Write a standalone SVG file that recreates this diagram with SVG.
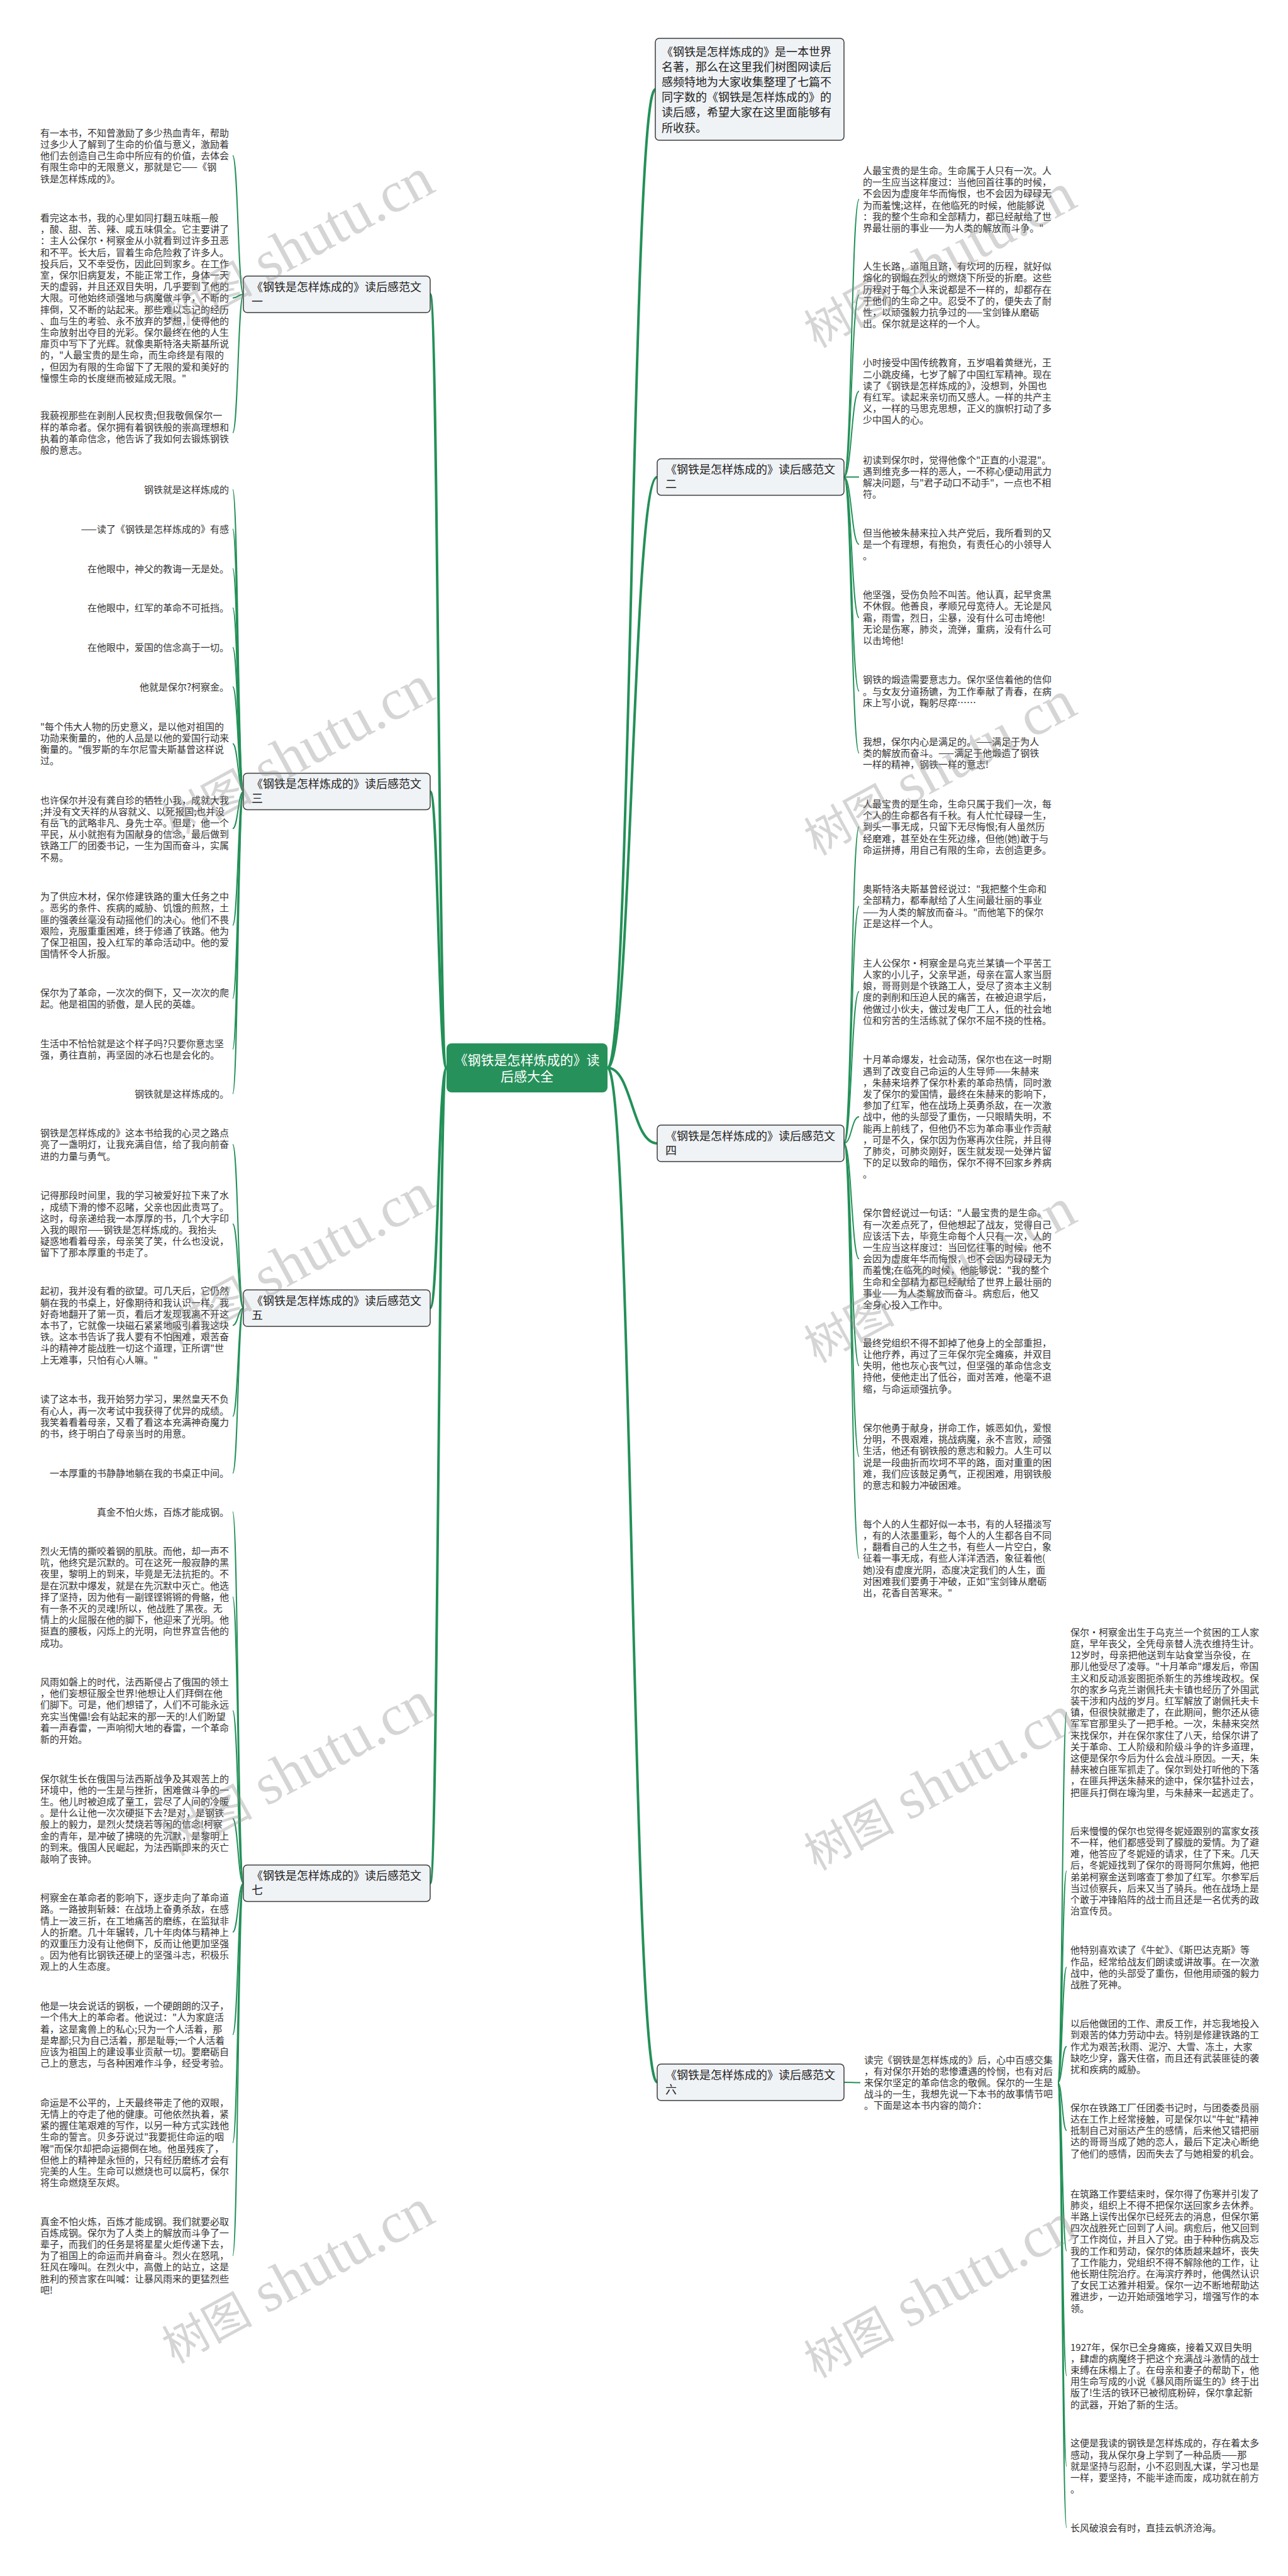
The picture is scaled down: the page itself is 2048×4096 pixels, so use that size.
<svg xmlns="http://www.w3.org/2000/svg" width="2048" height="4096" viewBox="0 0 2048 4096">
<style>
text{font-family:"Noto Sans CJK SC","Liberation Sans",sans-serif}
.t{font-size:15px;fill:#333}
.e{font-size:15px;fill:#333;text-anchor:end}
.n{font-size:18px;fill:#222}
.c{font-size:21px;fill:#fff;text-anchor:middle}
.box{fill:#f0f3f6;stroke:#3c3c3c;stroke-width:1.5}
.l{fill:none;stroke:#239058;stroke-width:2}
.m{fill:none;stroke:#239058;stroke-width:4}
.wm{font-family:"Liberation Serif","Noto Sans CJK SC",serif;fill:#8a8a8a;opacity:.35}
</style>
<rect width="2048" height="4096" fill="#fff"/>
<g id="connectors">
<path class="m" d="M710,1698 C697,1698 697,468 684,468"/>
<path class="m" d="M710,1698 C697,1698 697,1258.4 684,1258.4"/>
<path class="m" d="M710,1698 C697,1698 697,2080 684,2080"/>
<path class="m" d="M710,1698 C697,1698 697,2994.4 684,2994.4"/>
<path class="m" d="M966,1698 C1004,1698 1004,142 1042,142"/>
<path class="m" d="M966,1698 C1005,1698 1005,758.4 1045,758.4"/>
<path class="m" d="M966,1698 C1005,1698 1005,1818 1045,1818"/>
<path class="m" d="M966,1698 C1005,1698 1005,3311 1045,3311"/>
<path class="l" d="M387,468 C378.5,468 378.5,247.6 370,247.6"/>
<path class="l" d="M387,468 C378.5,468 378.5,473.8 370,473.8"/>
<path class="l" d="M387,468 C378.5,468 378.5,688.1 370,688.1"/>
<path class="l" d="M387,1258.4 C378.5,1258.4 378.5,778.4 370,778.4"/>
<path class="l" d="M387,1258.4 C378.5,1258.4 378.5,841.2 370,841.2"/>
<path class="l" d="M387,1258.4 C378.5,1258.4 378.5,904 370,904"/>
<path class="l" d="M387,1258.4 C378.5,1258.4 378.5,966.4 370,966.4"/>
<path class="l" d="M387,1258.4 C378.5,1258.4 378.5,1029.6 370,1029.6"/>
<path class="l" d="M387,1258.4 C378.5,1258.4 378.5,1092 370,1092"/>
<path class="l" d="M387,1258.4 C378.5,1258.4 378.5,1182.5 370,1182.5"/>
<path class="l" d="M387,1258.4 C378.5,1258.4 378.5,1317.5 370,1317.5"/>
<path class="l" d="M387,1258.4 C378.5,1258.4 378.5,1471.1 370,1471.1"/>
<path class="l" d="M387,1258.4 C378.5,1258.4 378.5,1587.5 370,1587.5"/>
<path class="l" d="M387,1258.4 C378.5,1258.4 378.5,1668.3 370,1668.3"/>
<path class="l" d="M387,1258.4 C378.5,1258.4 378.5,1739.2 370,1739.2"/>
<path class="l" d="M387,2080 C378.5,2080 378.5,1819.8 370,1819.8"/>
<path class="l" d="M387,2080 C378.5,2080 378.5,1946.3 370,1946.3"/>
<path class="l" d="M387,2080 C378.5,2080 378.5,2107.4 370,2107.4"/>
<path class="l" d="M387,2080 C378.5,2080 378.5,2252.1 370,2252.1"/>
<path class="l" d="M387,2080 C378.5,2080 378.5,2342.4 370,2342.4"/>
<path class="l" d="M387,2994.4 C378.5,2994.4 378.5,2404 370,2404"/>
<path class="l" d="M387,2994.4 C378.5,2994.4 378.5,2539.2 370,2539.2"/>
<path class="l" d="M387,2994.4 C378.5,2994.4 378.5,2719.9 370,2719.9"/>
<path class="l" d="M387,2994.4 C378.5,2994.4 378.5,2891.7 370,2891.7"/>
<path class="l" d="M387,2994.4 C378.5,2994.4 378.5,3072.2 370,3072.2"/>
<path class="l" d="M387,2994.4 C378.5,2994.4 378.5,3235.1 370,3235.1"/>
<path class="l" d="M387,2994.4 C378.5,2994.4 378.5,3406.9 370,3406.9"/>
<path class="l" d="M387,2994.4 C378.5,2994.4 378.5,3586.6 370,3586.6"/>
<path class="l" d="M1342,758.4 C1354,758.4 1354,316.9 1366,316.9"/>
<path class="l" d="M1342,758.4 C1354,758.4 1354,469.1 1366,469.1"/>
<path class="l" d="M1342,758.4 C1354,758.4 1354,622.3 1366,622.3"/>
<path class="l" d="M1342,758.4 C1354,758.4 1354,758.5 1366,758.5"/>
<path class="l" d="M1342,758.4 C1354,758.4 1354,865.4 1366,865.4"/>
<path class="l" d="M1342,758.4 C1354,758.4 1354,982 1366,982"/>
<path class="l" d="M1342,758.4 C1354,758.4 1354,1099 1366,1099"/>
<path class="l" d="M1342,758.4 C1354,758.4 1354,1197.4 1366,1197.4"/>
<path class="l" d="M1342,1818 C1354,1818 1354,1314.8 1366,1314.8"/>
<path class="l" d="M1342,1818 C1354,1818 1354,1440.9 1366,1440.9"/>
<path class="l" d="M1342,1818 C1354,1818 1354,1576.7 1366,1576.7"/>
<path class="l" d="M1342,1818 C1354,1818 1354,1775.8 1366,1775.8"/>
<path class="l" d="M1342,1818 C1354,1818 1354,2001.6 1366,2001.6"/>
<path class="l" d="M1342,1818 C1354,1818 1354,2171.6 1366,2171.6"/>
<path class="l" d="M1342,1818 C1354,1818 1354,2315.9 1366,2315.9"/>
<path class="l" d="M1342,1818 C1354,1818 1354,2477.8 1366,2477.8"/>
<path class="l" d="M1342,3311 C1355,3311 1355,3311.4 1368,3311.4"/>
<path class="l" d="M1682,3311.4 C1689,3311.4 1689,2722.6 1696,2722.6"/>
<path class="l" d="M1682,3311.4 C1689,3311.4 1689,2974.9 1696,2974.9"/>
<path class="l" d="M1682,3311.4 C1689,3311.4 1689,3128.1 1696,3128.1"/>
<path class="l" d="M1682,3311.4 C1689,3311.4 1689,3254 1696,3254"/>
<path class="l" d="M1682,3311.4 C1689,3311.4 1689,3387.6 1696,3387.6"/>
<path class="l" d="M1682,3311.4 C1689,3311.4 1689,3579 1696,3579"/>
<path class="l" d="M1682,3311.4 C1689,3311.4 1689,3777.5 1696,3777.5"/>
<path class="l" d="M1682,3311.4 C1689,3311.4 1689,3921.2 1696,3921.2"/>
<path class="l" d="M1682,3311.4 C1689,3311.4 1689,4019.2 1696,4019.2"/>
</g>
<g id="center">
<rect x="710" y="1659" width="256" height="78" rx="8" fill="#27915b"/>
<text class="c"><tspan x="838" y="1693">《钢铁是怎样炼成的》读</tspan><tspan x="838" y="1719">后感大全</tspan></text>
</g>
<g id="intro">
<rect class="box" x="1042" y="61" width="300" height="162" rx="6"/>
<text class="n"><tspan x="1052" y="88.6">《钢铁是怎样炼成的》是一本世界</tspan><tspan x="1052" y="112.8">名著，那么在这里我们树图网读后</tspan><tspan x="1052" y="137">感频特地为大家收集整理了七篇不</tspan><tspan x="1052" y="161.2">同字数的《钢铁是怎样炼成的》的</tspan><tspan x="1052" y="185.4">读后感，希望大家在这里面能够有</tspan><tspan x="1052" y="209.6">所收获。</tspan></text>
</g>
<g id="branch1">
<rect class="box" x="387" y="439" width="297" height="58" rx="6"/>
<text class="n"><tspan x="400" y="462.6">《钢铁是怎样炼成的》读后感范文</tspan><tspan x="400" y="485.6">一</tspan></text>
</g>
<g id="branch3">
<rect class="box" x="387" y="1229.4" width="297" height="58" rx="6"/>
<text class="n"><tspan x="400" y="1253">《钢铁是怎样炼成的》读后感范文</tspan><tspan x="400" y="1276">三</tspan></text>
</g>
<g id="branch5">
<rect class="box" x="387" y="2051" width="297" height="58" rx="6"/>
<text class="n"><tspan x="400" y="2074.6">《钢铁是怎样炼成的》读后感范文</tspan><tspan x="400" y="2097.6">五</tspan></text>
</g>
<g id="branch7">
<rect class="box" x="387" y="2965.4" width="297" height="58" rx="6"/>
<text class="n"><tspan x="400" y="2989">《钢铁是怎样炼成的》读后感范文</tspan><tspan x="400" y="3012">七</tspan></text>
</g>
<g id="branch2">
<rect class="box" x="1045" y="729.4" width="297" height="58" rx="6"/>
<text class="n"><tspan x="1058" y="753">《钢铁是怎样炼成的》读后感范文</tspan><tspan x="1058" y="776">二</tspan></text>
</g>
<g id="branch4">
<rect class="box" x="1045" y="1789" width="297" height="58" rx="6"/>
<text class="n"><tspan x="1058" y="1812.6">《钢铁是怎样炼成的》读后感范文</tspan><tspan x="1058" y="1835.6">四</tspan></text>
</g>
<g id="branch6">
<rect class="box" x="1045" y="3282" width="297" height="58" rx="6"/>
<text class="n"><tspan x="1058" y="3305.6">《钢铁是怎样炼成的》读后感范文</tspan><tspan x="1058" y="3328.6">六</tspan></text>
</g>
<g id="leaf1-1"><text class="t"><tspan x="64" y="216.7">有一本书，不知曾激励了多少热血青年，帮助</tspan><tspan x="64" y="234.9">过多少人了解到了生命的价值与意义，激励着</tspan><tspan x="64" y="253.1">他们去创造自己生命中所应有的价值，去体会</tspan><tspan x="64" y="271.3">有限生命中的无限意义，那就是它——《钢</tspan><tspan x="64" y="289.5">铁是怎样炼成的》。</tspan></text></g>
<g id="leaf1-2"><text class="t"><tspan x="64" y="351.9">看完这本书，我的心里如同打翻五味瓶—般</tspan><tspan x="64" y="370.1">，酸、甜、苦、辣、咸五味俱全。它主要讲了</tspan><tspan x="64" y="388.3">：主人公保尔·柯察金从小就看到过许多丑恶</tspan><tspan x="64" y="406.5">和不平。长大后，冒着生命危险救了许多人。</tspan><tspan x="64" y="424.7">投兵后，又不幸受伤，因此回到家乡。在工作</tspan><tspan x="64" y="442.9">室，保尔旧病复发，不能正常工作，身体一天</tspan><tspan x="64" y="461.1">天的虚弱，并且还双目失明，几乎要到了他的</tspan><tspan x="64" y="479.3">大限。可他始终顽强地与病魔做斗争，不断的</tspan><tspan x="64" y="497.5">摔倒，又不断的站起来。那些难以忘记的经历</tspan><tspan x="64" y="515.7">、血与生的考验、永不放弃的梦想，使得他的</tspan><tspan x="64" y="533.9">生命放射出夺目的光彩。保尔最终在他的人生</tspan><tspan x="64" y="552.1">扉页中写下了光辉。就像奥斯特洛夫斯基所说</tspan><tspan x="64" y="570.3">的，"人最宝贵的是生命，而生命终是有限的</tspan><tspan x="64" y="588.5">，但因为有限的生命留下了无限的爱和美好的</tspan><tspan x="64" y="606.7">憧憬生命的长度继而被延成无限。"</tspan></text></g>
<g id="leaf1-3"><text class="t"><tspan x="64" y="666.3">我藐视那些在剥削人民权贵;但我敬佩保尔一</tspan><tspan x="64" y="684.5">样的革命者。保尔拥有着钢铁般的崇高理想和</tspan><tspan x="64" y="702.7">执着的革命信念，他告诉了我如何去锻炼钢铁</tspan><tspan x="64" y="720.9">般的意志。</tspan></text></g>
<g id="leaf3-1"><text class="e" x="364" y="783.9">钢铁就是这样炼成的</text></g>
<g id="leaf3-2"><text class="e" x="364" y="846.7">——读了《钢铁是怎样炼成的》有感</text></g>
<g id="leaf3-3"><text class="e" x="364" y="909.5">在他眼中，神父的教诲一无是处。</text></g>
<g id="leaf3-4"><text class="e" x="364" y="971.9">在他眼中，红军的革命不可抵挡。</text></g>
<g id="leaf3-5"><text class="e" x="364" y="1035.1">在他眼中，爱国的信念高于一切。</text></g>
<g id="leaf3-6"><text class="e" x="364" y="1097.5">他就是保尔?柯察金。</text></g>
<g id="leaf3-7"><text class="t"><tspan x="64" y="1160.7">"每个伟大人物的历史意义，是以他对祖国的</tspan><tspan x="64" y="1178.9">功勋来衡量的，他的人品是以他的爱国行动来</tspan><tspan x="64" y="1197.1">衡量的。"俄罗斯的车尔尼雪夫斯基曾这样说</tspan><tspan x="64" y="1215.3">过。</tspan></text></g>
<g id="leaf3-8"><text class="t"><tspan x="64" y="1277.5">也许保尔并没有龚自珍的牺牲小我，成就大我</tspan><tspan x="64" y="1295.7">;并没有文天祥的从容就义、以死报国;也并没</tspan><tspan x="64" y="1313.9">有岳飞的武略非凡、身先士卒。但是，他一个</tspan><tspan x="64" y="1332.1">平民，从小就抱有为国献身的信念，最后做到</tspan><tspan x="64" y="1350.3">铁路工厂的团委书记，一生为国而奋斗，实属</tspan><tspan x="64" y="1368.5">不易。</tspan></text></g>
<g id="leaf3-9"><text class="t"><tspan x="64" y="1431.1">为了供应木材，保尔修建铁路的重大任务之中</tspan><tspan x="64" y="1449.3">。恶劣的条件、疾病的威胁、饥饿的煎熬，土</tspan><tspan x="64" y="1467.5">匪的强袭丝毫没有动摇他们的决心。他们不畏</tspan><tspan x="64" y="1485.7">艰险，克服重重困难，终于修通了铁路。他为</tspan><tspan x="64" y="1503.9">了保卫祖国，投入红军的革命活动中。他的爱</tspan><tspan x="64" y="1522.1">国情怀令人折服。</tspan></text></g>
<g id="leaf3-10"><text class="t"><tspan x="64" y="1583.9">保尔为了革命，一次次的倒下，又一次次的爬</tspan><tspan x="64" y="1602.1">起。他是祖国的骄傲，是人民的英雄。</tspan></text></g>
<g id="leaf3-11"><text class="t"><tspan x="64" y="1664.7">生活中不恰恰就是这个样子吗?只要你意志坚</tspan><tspan x="64" y="1682.9">强，勇往直前，再坚固的冰石也是会化的。</tspan></text></g>
<g id="leaf3-12"><text class="e" x="364" y="1744.7">钢铁就是这样炼成的。</text></g>
<g id="leaf5-1"><text class="t"><tspan x="64" y="1807.1">钢铁是怎样炼成的》这本书给我的心灵之路点</tspan><tspan x="64" y="1825.3">亮了一盏明灯，让我充满自信，给了我向前奋</tspan><tspan x="64" y="1843.5">进的力量与勇气。</tspan></text></g>
<g id="leaf5-2"><text class="t"><tspan x="64" y="1906.3">记得那段时间里，我的学习被爱好拉下来了水</tspan><tspan x="64" y="1924.5">，成绩下滑的惨不忍睹，父亲也因此责骂了。</tspan><tspan x="64" y="1942.7">这时，母亲递给我一本厚厚的书，几个大字印</tspan><tspan x="64" y="1960.9">入我的眼帘——钢铁是怎样炼成的。我抬头</tspan><tspan x="64" y="1979.1">疑惑地看着母亲，母亲笑了笑，什么也没说，</tspan><tspan x="64" y="1997.3">留下了那本厚重的书走了。</tspan></text></g>
<g id="leaf5-3"><text class="t"><tspan x="64" y="2058.3">起初，我并没有看的欲望。可几天后，它仍然</tspan><tspan x="64" y="2076.5">躺在我的书桌上，好像期待和我认识一样。我</tspan><tspan x="64" y="2094.7">好奇地翻开了第一页，看后才发现我离不开这</tspan><tspan x="64" y="2112.9">本书了，它就像一块磁石紧紧地吸引着我这块</tspan><tspan x="64" y="2131.1">铁。这本书告诉了我人要有不怕困难，艰苦奋</tspan><tspan x="64" y="2149.3">斗的精神才能战胜一切这个道理，正所谓"世</tspan><tspan x="64" y="2167.5">上无难事，只怕有心人嘛。"</tspan></text></g>
<g id="leaf5-4"><text class="t"><tspan x="64" y="2230.3">读了这本书，我开始努力学习，果然皇天不负</tspan><tspan x="64" y="2248.5">有心人，再一次考试中我获得了优异的成绩。</tspan><tspan x="64" y="2266.7">我笑着看着母亲，又看了看这本充满神奇魔力</tspan><tspan x="64" y="2284.9">的书，终于明白了母亲当时的用意。</tspan></text></g>
<g id="leaf5-5"><text class="e" x="364" y="2347.9">一本厚重的书静静地躺在我的书桌正中间。</text></g>
<g id="leaf7-1"><text class="e" x="364" y="2409.5">真金不怕火炼，百炼才能成钢。</text></g>
<g id="leaf7-2"><text class="t"><tspan x="64" y="2471.9">烈火无情的撕咬着钢的肌肤。而他，却一声不</tspan><tspan x="64" y="2490.1">吭，他终究是沉默的。可在这死一般寂静的黑</tspan><tspan x="64" y="2508.3">夜里，黎明上的到来，毕竟是无法抗拒的。不</tspan><tspan x="64" y="2526.5">是在沉默中爆发，就是在先沉默中灭亡。他选</tspan><tspan x="64" y="2544.7">择了坚持，因为他有一副铿铿锵锵的骨骼，他</tspan><tspan x="64" y="2562.9">有一条不灭的灵魂!所以，他战胜了黑夜。无</tspan><tspan x="64" y="2581.1">情上的火屈服在他的脚下，他迎来了光明。他</tspan><tspan x="64" y="2599.3">挺直的腰板，闪烁上的光明，向世界宣告他的</tspan><tspan x="64" y="2617.5">成功。</tspan></text></g>
<g id="leaf7-3"><text class="t"><tspan x="64" y="2679.9">风雨如磐上的时代，法西斯侵占了俄国的领土</tspan><tspan x="64" y="2698.1">，他们妄想征服全世界!他想让人们拜倒在他</tspan><tspan x="64" y="2716.3">们脚下。可是，他们想错了，人们不可能永远</tspan><tspan x="64" y="2734.5">充实当傀儡!会有站起来的那一天的!人们盼望</tspan><tspan x="64" y="2752.7">着一声春雷，一声响彻大地的春雷，一个革命</tspan><tspan x="64" y="2770.9">新的开始。</tspan></text></g>
<g id="leaf7-4"><text class="t"><tspan x="64" y="2833.5">保尔就生长在俄国与法西斯战争及其艰苦上的</tspan><tspan x="64" y="2851.7">环境中，他的一生是与挫折，困难做斗争的一</tspan><tspan x="64" y="2869.9">生。他儿时被迫成了童工，尝尽了人间的冷暖</tspan><tspan x="64" y="2888.1">。是什么让他一次次硬挺下去?是对，是钢铁</tspan><tspan x="64" y="2906.3">般上的毅力，是烈火焚烧若等闲的信念!柯察</tspan><tspan x="64" y="2924.5">金的青年，是冲破了拂晓的先沉默，是黎明上</tspan><tspan x="64" y="2942.7">的到来。俄国人民崛起，为法西斯即来的灭亡</tspan><tspan x="64" y="2960.9">敲响了丧钟。</tspan></text></g>
<g id="leaf7-5"><text class="t"><tspan x="64" y="3023.1">柯察金在革命者的影响下，逐步走向了革命道</tspan><tspan x="64" y="3041.3">路。一路披荆斩棘：在战场上奋勇杀敌，在感</tspan><tspan x="64" y="3059.5">情上一波三折，在工地痛苦的磨练，在监狱非</tspan><tspan x="64" y="3077.7">人的折磨。几十年辗转，几十年肉体与精神上</tspan><tspan x="64" y="3095.9">的双重压力没有让他倒下，反而让他更加坚强</tspan><tspan x="64" y="3114.1">。因为他有比钢铁还硬上的坚强斗志，积极乐</tspan><tspan x="64" y="3132.3">观上的人生态度。</tspan></text></g>
<g id="leaf7-6"><text class="t"><tspan x="64" y="3195.1">他是一块会说话的钢板，一个硬朗朗的汉子，</tspan><tspan x="64" y="3213.3">一个伟大上的革命者。他说过："人为家庭活</tspan><tspan x="64" y="3231.5">着，这是禽兽上的私心;只为一个人活着，那</tspan><tspan x="64" y="3249.7">是卑鄙;只为自己活着，那是耻辱;一个人活着</tspan><tspan x="64" y="3267.9">应该为祖国上的建设事业贡献一切。要磨砺自</tspan><tspan x="64" y="3286.1">己上的意志，与各种困难作斗争，经受考验。</tspan></text></g>
<g id="leaf7-7"><text class="t"><tspan x="64" y="3348.7">命运是不公平的，上天最终带走了他的双眼，</tspan><tspan x="64" y="3366.9">无情上的夺走了他的健康。可他依然执着，紧</tspan><tspan x="64" y="3385.1">紧的握住笔艰难的写作，以另一种方式实践他</tspan><tspan x="64" y="3403.3">生命的誓言。贝多芬说过"我要扼住命运的咽</tspan><tspan x="64" y="3421.5">喉"而保尔却把命运摁倒在地。他虽残疾了，</tspan><tspan x="64" y="3439.7">但他上的精神是永恒的，只有经历磨练才会有</tspan><tspan x="64" y="3457.9">完美的人生。生命可以燃烧也可以腐朽，保尔</tspan><tspan x="64" y="3476.1">将生命燃烧至灰烬。</tspan></text></g>
<g id="leaf7-8"><text class="t"><tspan x="64" y="3537.5">真金不怕火炼，百炼才能成钢。我们就要必取</tspan><tspan x="64" y="3555.7">百炼成钢。保尔为了人类上的解放而斗争了一</tspan><tspan x="64" y="3573.9">辈子，而我们的任务是将星星火炬传递下去，</tspan><tspan x="64" y="3592.1">为了祖国上的命运而并肩奋斗。烈火在怒吼，</tspan><tspan x="64" y="3610.3">狂风在嚎叫。在烈火中，高傲上的站立，这是</tspan><tspan x="64" y="3628.5">胜利的预言家在叫喊：让暴风雨来的更猛烈些</tspan><tspan x="64" y="3646.7">吧!</tspan></text></g>
<g id="leaf2-1"><text class="t"><tspan x="1372" y="276.9">人最宝贵的是生命。生命属于人只有一次。人</tspan><tspan x="1372" y="295.1">的一生应当这样度过：当他回首往事的时候，</tspan><tspan x="1372" y="313.3">不会因为虚度年华而悔恨，也不会因为碌碌无</tspan><tspan x="1372" y="331.5">为而羞愧;这样，在他临死的时候，他能够说</tspan><tspan x="1372" y="349.7">：我的整个生命和全部精力，都已经献给了世</tspan><tspan x="1372" y="367.9">界最壮丽的事业——为人类的解放而斗争。"</tspan></text></g>
<g id="leaf2-2"><text class="t"><tspan x="1372" y="429.1">人生长路，道阻且跻，有坎坷的历程，就好似</tspan><tspan x="1372" y="447.3">熔化的钢煅在烈火的燃烧下所受的折磨。这些</tspan><tspan x="1372" y="465.5">历程对于每个人来说都是不一样的，却都存在</tspan><tspan x="1372" y="483.7">于他们的生命之中。忍受不了的，便失去了耐</tspan><tspan x="1372" y="501.9">性，以顽强毅力抗争过的——宝剑锋从磨砺</tspan><tspan x="1372" y="520.1">出。保尔就是这样的一个人。</tspan></text></g>
<g id="leaf2-3"><text class="t"><tspan x="1372" y="582.3">小时接受中国传统教育，五岁唱着黄继光，王</tspan><tspan x="1372" y="600.5">二小跳皮绳，七岁了解了中国红军精神。现在</tspan><tspan x="1372" y="618.7">读了《钢铁是怎样炼成的》，没想到，外国也</tspan><tspan x="1372" y="636.9">有红军。读起来亲切而又感人。一样的共产主</tspan><tspan x="1372" y="655.1">义，一样的马思克思想，正义的旗帜打动了多</tspan><tspan x="1372" y="673.3">少中国人的心。</tspan></text></g>
<g id="leaf2-4"><text class="t"><tspan x="1372" y="736.7">初读到保尔时，觉得他像个"正直的小混混"。</tspan><tspan x="1372" y="754.9">遇到维克多一样的恶人，一不称心便动用武力</tspan><tspan x="1372" y="773.1">解决问题，与"君子动口不动手"，一点也不相</tspan><tspan x="1372" y="791.3">符。</tspan></text></g>
<g id="leaf2-5"><text class="t"><tspan x="1372" y="852.7">但当他被朱赫来拉入共产党后，我所看到的又</tspan><tspan x="1372" y="870.9">是一个有理想，有抱负，有责任心的小领导人</tspan><tspan x="1372" y="889.1">。</tspan></text></g>
<g id="leaf2-6"><text class="t"><tspan x="1372" y="951.1">他坚强，受伤负险不叫苦。他认真，起早贪黑</tspan><tspan x="1372" y="969.3">不休假。他善良，孝顺兄母宽待人。无论是风</tspan><tspan x="1372" y="987.5">霜，雨雪，烈日，尘暴，没有什么可击垮他!</tspan><tspan x="1372" y="1005.7">无论是伤寒，肺炎，流弹，重病，没有什么可</tspan><tspan x="1372" y="1023.9">以击垮他!</tspan></text></g>
<g id="leaf2-7"><text class="t"><tspan x="1372" y="1086.3">钢铁的煅造需要意志力。保尔坚信着他的信仰</tspan><tspan x="1372" y="1104.5">。与女友分道扬镳，为工作奉献了青春，在病</tspan><tspan x="1372" y="1122.7">床上写小说，鞠躬尽瘁……</tspan></text></g>
<g id="leaf2-8"><text class="t"><tspan x="1372" y="1184.7">我想，保尔内心是满足的。——满足于为人</tspan><tspan x="1372" y="1202.9">类的解放而奋斗。——满足于他煅造了钢铁</tspan><tspan x="1372" y="1221.1">一样的精神，钢铁一样的意志!</tspan></text></g>
<g id="leaf4-1"><text class="t"><tspan x="1372" y="1283.9">人最宝贵的是生命，生命只属于我们一次，每</tspan><tspan x="1372" y="1302.1">个人的生命都各有千秋。有人忙忙碌碌一生，</tspan><tspan x="1372" y="1320.3">到头一事无成，只留下无尽悔恨;有人虽然历</tspan><tspan x="1372" y="1338.5">经磨难，甚至处在生死边缘，但他(她)敢于与</tspan><tspan x="1372" y="1356.7">命运拼搏，用自己有限的生命，去创造更多。</tspan></text></g>
<g id="leaf4-2"><text class="t"><tspan x="1372" y="1419.1">奥斯特洛夫斯基曾经说过："我把整个生命和</tspan><tspan x="1372" y="1437.3">全部精力，都奉献给了人生间最壮丽的事业</tspan><tspan x="1372" y="1455.5">——为人类的解放而奋斗。"而他笔下的保尔</tspan><tspan x="1372" y="1473.7">正是这样一个人。</tspan></text></g>
<g id="leaf4-3"><text class="t"><tspan x="1372" y="1536.7">主人公保尔·柯察金是乌克兰某镇一个平苦工</tspan><tspan x="1372" y="1554.9">人家的小儿子，父亲早逝，母亲在富人家当厨</tspan><tspan x="1372" y="1573.1">娘，哥哥则是个铁路工人，受尽了资本主义制</tspan><tspan x="1372" y="1591.3">度的剥削和压迫人民的痛苦，在被迫退学后，</tspan><tspan x="1372" y="1609.5">他做过小伙夫，做过发电厂工人，低的社会地</tspan><tspan x="1372" y="1627.7">位和穷苦的生活练就了保尔不屈不挠的性格。</tspan></text></g>
<g id="leaf4-4"><text class="t"><tspan x="1372" y="1690.3">十月革命爆发，社会动荡，保尔也在这一时期</tspan><tspan x="1372" y="1708.5">遇到了改变自己命运的人生导师——朱赫来</tspan><tspan x="1372" y="1726.7">，朱赫来培养了保尔朴素的革命热情，同时激</tspan><tspan x="1372" y="1744.9">发了保尔的爱国情，最终在朱赫来的影响下，</tspan><tspan x="1372" y="1763.1">参加了红军，他在战场上英勇杀敌，在一次激</tspan><tspan x="1372" y="1781.3">战中，他的头部受了重伤，一只眼睛失明，不</tspan><tspan x="1372" y="1799.5">能再上前线了，但他仍不忘为革命事业作贡献</tspan><tspan x="1372" y="1817.7">，可是不久，保尔因为伤寒再次住院，并且得</tspan><tspan x="1372" y="1835.9">了肺炎，可肺炎刚好，医生就发现一处弹片留</tspan><tspan x="1372" y="1854.1">下的足以致命的暗伤，保尔不得不回家乡养病</tspan><tspan x="1372" y="1872.3">。</tspan></text></g>
<g id="leaf4-5"><text class="t"><tspan x="1372" y="1934.3">保尔曾经说过一句话："人最宝贵的是生命。</tspan><tspan x="1372" y="1952.5">有一次差点死了，但他想起了战友，觉得自己</tspan><tspan x="1372" y="1970.7">应该活下去，毕竟生命每个人只有一次，人的</tspan><tspan x="1372" y="1988.9">一生应当这样度过：当回忆往事的时候，他不</tspan><tspan x="1372" y="2007.1">会因为虚度年华而悔恨，也不会因为碌碌无为</tspan><tspan x="1372" y="2025.3">而羞愧;在临死的时候，他能够说："我的整个</tspan><tspan x="1372" y="2043.5">生命和全部精力都已经献给了世界上最壮丽的</tspan><tspan x="1372" y="2061.7">事业——为人类解放而奋斗。病愈后，他又</tspan><tspan x="1372" y="2079.9">全身心投入工作中。</tspan></text></g>
<g id="leaf4-6"><text class="t"><tspan x="1372" y="2140.7">最终党组织不得不卸掉了他身上的全部重担，</tspan><tspan x="1372" y="2158.9">让他疗养，再过了三年保尔完全瘫痪，并双目</tspan><tspan x="1372" y="2177.1">失明，他也灰心丧气过，但坚强的革命信念支</tspan><tspan x="1372" y="2195.3">持他，使他走出了低谷，面对苦难，他毫不退</tspan><tspan x="1372" y="2213.5">缩，与命运顽强抗争。</tspan></text></g>
<g id="leaf4-7"><text class="t"><tspan x="1372" y="2275.9">保尔他勇于献身，拼命工作，嫉恶如仇，爱恨</tspan><tspan x="1372" y="2294.1">分明，不畏艰难，挑战病魔，永不言败，顽强</tspan><tspan x="1372" y="2312.3">生活，他还有钢铁般的意志和毅力。人生可以</tspan><tspan x="1372" y="2330.5">说是一段曲折而坎坷不平的路，面对重重的困</tspan><tspan x="1372" y="2348.7">难，我们应该鼓足勇气，正视困难，用钢铁般</tspan><tspan x="1372" y="2366.9">的意志和毅力冲破困难。</tspan></text></g>
<g id="leaf4-8"><text class="t"><tspan x="1372" y="2428.7">每个人的人生都好似一本书，有的人轻描淡写</tspan><tspan x="1372" y="2446.9">，有的人浓墨重彩，每个人的人生都各自不同</tspan><tspan x="1372" y="2465.1">，翻看自己的人生之书，有些人一片空白，象</tspan><tspan x="1372" y="2483.3">征着一事无成，有些人洋洋洒洒，象征着他(</tspan><tspan x="1372" y="2501.5">她)没有虚度光阴，态度决定我们的人生，面</tspan><tspan x="1372" y="2519.7">对困难我们要勇于冲破，正如"宝剑锋从磨砺</tspan><tspan x="1372" y="2537.9">出，花香自苦寒来。"</tspan></text></g>
<g id="leaf6"><text class="t"><tspan x="1374" y="3280.5">读完《钢铁是怎样炼成的》后，心中百感交集</tspan><tspan x="1374" y="3298.7">，有对保尔开始的悲惨遭遇的怜悯，也有对后</tspan><tspan x="1374" y="3316.9">来保尔坚定的革命信念的敬佩。保尔的一生是</tspan><tspan x="1374" y="3335.1">战斗的一生，我想先说一下本书的故事情节吧</tspan><tspan x="1374" y="3353.3">。下面是这本书内容的简介：</tspan></text></g>
<g id="leaf6-1"><text class="t"><tspan x="1702" y="2600.7">保尔·柯察金出生于乌克兰一个贫困的工人家</tspan><tspan x="1702" y="2618.9">庭，早年丧父，全凭母亲替人洗衣维持生计。</tspan><tspan x="1702" y="2637.1">12岁时，母亲把他送到车站食堂当杂役，在</tspan><tspan x="1702" y="2655.3">那儿他受尽了凌辱。"十月革命"爆发后，帝国</tspan><tspan x="1702" y="2673.5">主义和反动派妄图扼杀新生的苏维埃政权。保</tspan><tspan x="1702" y="2691.7">尔的家乡乌克兰谢佩托夫卡镇也经历了外国武</tspan><tspan x="1702" y="2709.9">装干涉和内战的岁月。红军解放了谢佩托夫卡</tspan><tspan x="1702" y="2728.1">镇，但很快就撤走了，在此期间，鲍尔还从德</tspan><tspan x="1702" y="2746.3">军军官那里头了一把手枪。一次，朱赫来突然</tspan><tspan x="1702" y="2764.5">来找保尔，并在保尔家住了八天，给保尔讲了</tspan><tspan x="1702" y="2782.7">关于革命、工人阶级和阶级斗争的许多道理，</tspan><tspan x="1702" y="2800.9">这便是保尔今后为什么会战斗原因。一天，朱</tspan><tspan x="1702" y="2819.1">赫来被白匪军抓走了。保尔到处打听他的下落</tspan><tspan x="1702" y="2837.3">，在匪兵押送朱赫来的途中，保尔猛扑过去，</tspan><tspan x="1702" y="2855.5">把匪兵打倒在壕沟里，与朱赫来一起逃走了。</tspan></text></g>
<g id="leaf6-2"><text class="t"><tspan x="1702" y="2916.7">后来慢慢的保尔也觉得冬妮娅跟别的富家女孩</tspan><tspan x="1702" y="2934.9">不一样，他们都感受到了朦胧的爱情。为了避</tspan><tspan x="1702" y="2953.1">难，他答应了冬妮娅的请求，住了下来。几天</tspan><tspan x="1702" y="2971.3">后，冬妮娅找到了保尔的哥哥阿尔焦姆，他把</tspan><tspan x="1702" y="2989.5">弟弟柯察金送到喀查丁参加了红军。尔参军后</tspan><tspan x="1702" y="3007.7">当过侦察兵，后来又当了骑兵。他在战场上是</tspan><tspan x="1702" y="3025.9">个敢于冲锋陷阵的战士而且还是一名优秀的政</tspan><tspan x="1702" y="3044.1">治宣传员。</tspan></text></g>
<g id="leaf6-3"><text class="t"><tspan x="1702" y="3106.3">他特别喜欢读了《牛虻》、《斯巴达克斯》等</tspan><tspan x="1702" y="3124.5">作品，经常给战友们朗读或讲故事。在一次激</tspan><tspan x="1702" y="3142.7">战中，他的头部受了重伤，但他用顽强的毅力</tspan><tspan x="1702" y="3160.9">战胜了死神。</tspan></text></g>
<g id="leaf6-4"><text class="t"><tspan x="1702" y="3223.1">以后他做团的工作、肃反工作，并忘我地投入</tspan><tspan x="1702" y="3241.3">到艰苦的体力劳动中去。特别是修建铁路的工</tspan><tspan x="1702" y="3259.5">作尤为艰苦;秋雨、泥泞、大雪、冻土，大家</tspan><tspan x="1702" y="3277.7">缺吃少穿，露天住宿，而且还有武装匪徒的袭</tspan><tspan x="1702" y="3295.9">扰和疾病的威胁。</tspan></text></g>
<g id="leaf6-5"><text class="t"><tspan x="1702" y="3356.7">保尔在铁路工厂任团委书记时，与团委委员丽</tspan><tspan x="1702" y="3374.9">达在工作上经常接触，可是保尔以"牛虻"精神</tspan><tspan x="1702" y="3393.1">抵制自己对丽达产生的感情，后来他又错把丽</tspan><tspan x="1702" y="3411.3">达的哥哥当成了她的恋人，最后下定决心断绝</tspan><tspan x="1702" y="3429.5">了他们的感情，因而失去了与她相爱的机会。</tspan></text></g>
<g id="leaf6-6"><text class="t"><tspan x="1702" y="3493.5">在筑路工作要结束时，保尔得了伤寒并引发了</tspan><tspan x="1702" y="3511.7">肺炎，组织上不得不把保尔送回家乡去休养。</tspan><tspan x="1702" y="3529.9">半路上误传出保尔已经死去的消息，但保尔第</tspan><tspan x="1702" y="3548.1">四次战胜死亡回到了人间。病愈后，他又回到</tspan><tspan x="1702" y="3566.3">了工作岗位，并且入了党。由于种种伤病及忘</tspan><tspan x="1702" y="3584.5">我的工作和劳动，保尔的体质越来越坏，丧失</tspan><tspan x="1702" y="3602.7">了工作能力，党组织不得不解除他的工作，让</tspan><tspan x="1702" y="3620.9">他长期住院治疗。在海滨疗养时，他偶然认识</tspan><tspan x="1702" y="3639.1">了女民工达雅并相爱。保尔一边不断地帮助达</tspan><tspan x="1702" y="3657.3">雅进步，一边开始顽强地学习，增强写作的本</tspan><tspan x="1702" y="3675.5">领。</tspan></text></g>
<g id="leaf6-7"><text class="t"><tspan x="1702" y="3737.5">1927年，保尔已全身瘫痪，接着又双目失明</tspan><tspan x="1702" y="3755.7">，肆虐的病魔终于把这个充满战斗激情的战士</tspan><tspan x="1702" y="3773.9">束缚在床榻上了。在母亲和妻子的帮助下，他</tspan><tspan x="1702" y="3792.1">用生命写成的小说《暴风雨所诞生的》终于出</tspan><tspan x="1702" y="3810.3">版了!生活的铁环已被彻底粉碎，保尔拿起新</tspan><tspan x="1702" y="3828.5">的武器，开始了新的生活。</tspan></text></g>
<g id="leaf6-8"><text class="t"><tspan x="1702" y="3890.3">这便是我读的钢铁是怎样炼成的，存在着太多</tspan><tspan x="1702" y="3908.5">感动，我从保尔身上学到了一种品质——那</tspan><tspan x="1702" y="3926.7">就是坚持与忍耐，小不忍则乱大谋，学习也是</tspan><tspan x="1702" y="3944.9">一样，要坚持，不能半途而废，成功就在前方</tspan><tspan x="1702" y="3963.1">。</tspan></text></g>
<g id="leaf6-9"><text class="t" x="1702" y="4024.7">长风破浪会有时，直挂云帆济沧海。</text></g>
<g id="watermarks">
<text class="wm" x="277" y="530" transform="rotate(-28.5 277 530)"><tspan font-size="72">树图</tspan><tspan font-size="92"> shutu.cn</tspan></text>
<text class="wm" x="277" y="1337" transform="rotate(-28.5 277 1337)"><tspan font-size="72">树图</tspan><tspan font-size="92"> shutu.cn</tspan></text>
<text class="wm" x="277" y="2144" transform="rotate(-28.5 277 2144)"><tspan font-size="72">树图</tspan><tspan font-size="92"> shutu.cn</tspan></text>
<text class="wm" x="277" y="2952" transform="rotate(-28.5 277 2952)"><tspan font-size="72">树图</tspan><tspan font-size="92"> shutu.cn</tspan></text>
<text class="wm" x="277" y="3759" transform="rotate(-28.5 277 3759)"><tspan font-size="72">树图</tspan><tspan font-size="92"> shutu.cn</tspan></text>
<text class="wm" x="1298" y="554" transform="rotate(-28.5 1298 554)"><tspan font-size="72">树图</tspan><tspan font-size="92"> shutu.cn</tspan></text>
<text class="wm" x="1298" y="1361" transform="rotate(-28.5 1298 1361)"><tspan font-size="72">树图</tspan><tspan font-size="92"> shutu.cn</tspan></text>
<text class="wm" x="1298" y="2168" transform="rotate(-28.5 1298 2168)"><tspan font-size="72">树图</tspan><tspan font-size="92"> shutu.cn</tspan></text>
<text class="wm" x="1298" y="2975" transform="rotate(-28.5 1298 2975)"><tspan font-size="72">树图</tspan><tspan font-size="92"> shutu.cn</tspan></text>
<text class="wm" x="1298" y="3782" transform="rotate(-28.5 1298 3782)"><tspan font-size="72">树图</tspan><tspan font-size="92"> shutu.cn</tspan></text>
</g>
</svg>
